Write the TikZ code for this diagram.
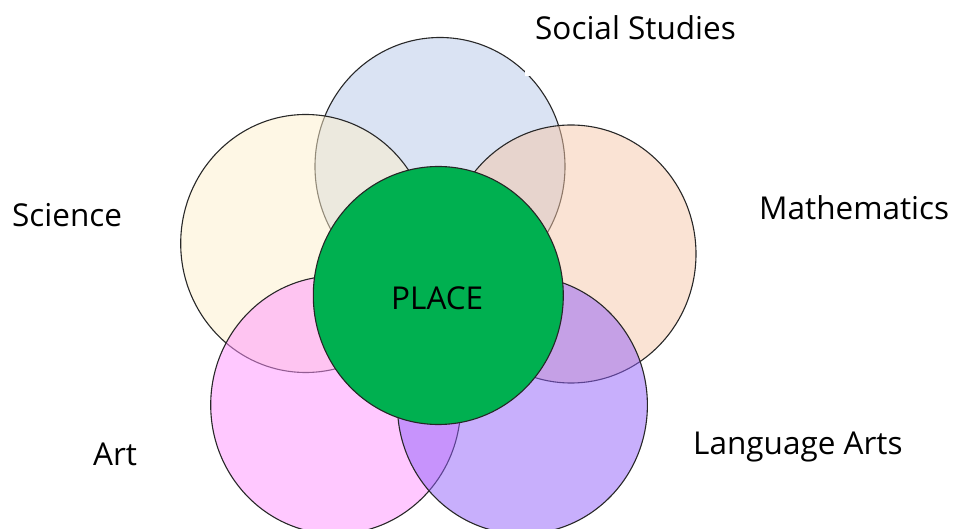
\documentclass[tikz,border=0pt]{standalone}
\usepackage{fontspec}
\setmainfont{Open Sans}
\usetikzlibrary{shapes.geometric}
\definecolor{ssblue}{RGB}{218,227,243}
\definecolor{scyel}{RGB}{254,239,203}
\definecolor{mapeach}{RGB}{245,199,169}
\definecolor{artpink}{RGB}{255,145,255}
\definecolor{lapurp}{RGB}{145,95,249}
\definecolor{placegreen}{RGB}{0,176,80}
\definecolor{rimgray}{RGB}{40,40,40}
\begin{document}
\begin{tikzpicture}[x=1pt,y=-1pt,
  disc/.style={ellipse,inner sep=0pt,minimum width=250pt,minimum height=258pt,
    draw=rimgray,line width=1.1pt,fill opacity=0.5},
  lbl/.style={inner sep=0pt,anchor=base west,font=\fontsize{31.5}{31.5}\selectfont}]
\useasboundingbox (0,0) rectangle (954,529);
\node[disc,fill=ssblue,fill opacity=1] (ss) at (440,166.5) {};
\node[disc,fill=scyel] (sc) at (305.7,243.5) {};
\node[disc,fill=mapeach] (ma) at (571,254) {};
\node[disc,fill=artpink] (ar) at (335.7,405) {};
\node[disc,fill=lapurp] (la) at (522.4,405) {};
\node[disc,fill=placegreen,fill opacity=1,draw=black!85] (pl) at (438.3,295.5) {};
\node[inner sep=0pt,anchor=base,font=\fontsize{31.5}{31.5}\selectfont] (pltext) at (437.2,309.3) {PLACE};
\node[fill=white,inner sep=0pt,minimum size=6pt] (nick) at (528,73) {};
\node[lbl] (lss) at (535,39.3) {Social Studies};
\node[lbl] (lsc) at (12,226.7) {Science};
\node[lbl] (lma) at (759,220) {Mathematics};
\node[lbl] (lar) at (93,465) {Art};
\node[lbl] (lla) at (693,455) {Language Arts};
\end{tikzpicture}
\end{document}
